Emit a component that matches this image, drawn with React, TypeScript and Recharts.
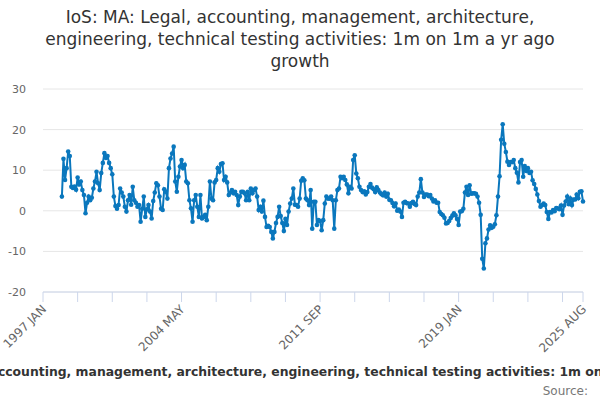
import { LineChart, Line, XAxis, YAxis, CartesianGrid } from "recharts";

const TITLE_LINES = [
  "IoS: MA: Legal, accounting, management, architecture,",
  "engineering, technical testing activities: 1m on 1m a yr ago",
  "growth",
];
const SERIES_NAME =
  "IoS: MA: Legal, accounting, management, architecture, engineering, technical testing activities: 1m on 1m a yr ago growth";

const MONTHS = ["JAN", "FEB", "MAR", "APR", "MAY", "JUN", "JUL", "AUG", "SEP", "OCT", "NOV", "DEC"];

// growth, % (1m on 1m a yr ago), one array per year
const y1997 = [null, null, null, null, null, null, null, null, null, null, null, null];
const y1998 = [3.5, 12.8, 7.6, 10.5, 14.6, 13.5, 5.9, 5.6, 6.0, 5.2, 8.2, 6.5];
const y1999 = [7.2, 5.1, 3.9, -0.6, 2.0, 3.5, 2.6, 3.2, 5.5, 7.2, 9.6, 6.8];
const y2000 = [5.1, 9.3, 11.8, 14.2, 13.0, 13.5, 11.8, 10.5, 9.0, 3.5, 1.2, 0.5];
const y2001 = [1.4, 5.5, 4.5, 3.5, 1.0, -0.2, 2.6, 3.9, 1.5, 5.9, 2.6, 2.0];
const y2002 = [1.0, 1.4, -2.7, 0.5, 3.5, -1.5, 0.4, 1.4, -0.2, -1.9, 2.4, 4.5];
const y2003 = [6.8, 6.3, 3.5, 0.5, 0.2, 5.3, 4.7, 3.0, 10.5, 12.9, 14.1, 15.8];
const y2004 = [7.2, 4.7, 8.4, 10.9, 12.5, 10.5, 11.3, 7.2, 6.8, 2.6, 0.6, -2.7];
const y2005 = [2.6, 3.9, 1.0, -1.5, 3.9, -1.9, -1.5, -1.0, -2.3, 1.0, 7.2, 3.0];
const y2006 = [2.6, 7.0, 7.6, 10.5, 9.6, 11.5, 11.7, 7.6, 8.4, 7.0, 3.9, 4.5];
const y2007 = [5.1, 4.3, 4.7, 3.9, 1.4, 3.5, 4.7, 4.7, 4.3, 2.6, 4.7, 2.6];
const y2008 = [5.5, 4.3, 5.1, 5.5, 3.5, 0.2, 1.0, -0.2, 2.5, -1.5, -4.0, -3.7];
const y2009 = [-4.0, -5.2, -6.8, -5.2, -3.0, -1.5, 1.0, -1.3, -3.0, -5.0, -2.0, -3.5];
const y2010 = [-0.2, 1.8, 3.0, 5.5, 1.5, 1.4, 1.0, 3.0, 7.4, 8.0, 7.5, 3.0];
const y2011 = [2.6, 1.4, 5.1, -4.4, 2.2, 2.2, -3.5, -2.3, -2.5, -4.8, -2.3, 1.8];
const y2012 = [3.5, 3.0, 3.0, 3.5, 2.6, -4.4, 2.6, 5.1, 5.5, 8.4, 8.0, 8.4];
const y2013 = [7.6, 6.5, 4.3, 5.9, 5.5, 12.5, 13.7, 9.2, 8.0, 5.9, 5.1, 4.6];
const y2014 = [4.8, 4.0, 4.6, 5.9, 6.6, 5.7, 5.3, 4.6, 5.8, 5.1, 4.5, 4.1];
const y2015 = [3.8, 4.5, 3.5, 4.2, 2.7, 2.6, 1.9, 1.1, 1.8, 0.0, 0.3, -0.2];
const y2016 = [-1.5, 2.0, 2.2, 1.9, 1.8, 1.0, 1.9, 2.2, 1.7, 1.4, 3.5, 4.5];
const y2017 = [7.8, 4.5, 3.4, 4.0, 4.0, 3.6, 3.9, 3.0, 2.3, 2.6, 2.0, 2.0];
const y2018 = [-0.3, -0.8, -1.1, -1.7, -3.1, -3.0, -2.5, -1.8, -1.2, -0.6, -1.1, -2.0];
const y2019 = [-3.5, -0.2, -0.1, 0.5, 4.5, 5.9, 3.9, 6.3, 4.2, 4.3, 4.3, 4.2];
const y2020 = [3.5, 2.0, -1.0, -11.8, -14.2, -8.0, -6.8, -4.6, -3.6, -4.2, -3.9, -3.3];
const y2021 = [-1.1, 3.5, 8.5, 17.5, 21.3, 16.5, 14.5, 12.1, 11.3, 12.0, 12.0, 12.5];
const y2022 = [10.5, 9.4, 7.0, 12.0, 12.5, 8.4, 11.0, 9.8, 10.5, 9.3, 9.6, 7.5];
const y2023 = [6.6, 5.4, 4.0, 2.4, 1.0, 1.4, 1.8, 1.4, -0.3, -2.0, -0.3, -0.4];
const y2024 = [0.2, -0.1, 0.7, 0.6, 0.4, 1.3, -1.0, 1.3, 2.3, 3.5, 1.6, 3.0];
const y2025 = [1.4, 2.8, 2.8, 4.0, 3.1, 4.7, 4.8, 2.3];

const YEARS: [number, (number | null)[]][] = [
  [1997, y1997], [1998, y1998], [1999, y1999], [2000, y2000], [2001, y2001],
  [2002, y2002], [2003, y2003], [2004, y2004], [2005, y2005], [2006, y2006],
  [2007, y2007], [2008, y2008], [2009, y2009], [2010, y2010], [2011, y2011],
  [2012, y2012], [2013, y2013], [2014, y2014], [2015, y2015], [2016, y2016],
  [2017, y2017], [2018, y2018], [2019, y2019], [2020, y2020], [2021, y2021],
  [2022, y2022], [2023, y2023], [2024, y2024], [2025, y2025],
];

const X_TICKS = [
  "1997 JAN", "1998 NOV", "2000 SEP", "2002 JUL", "2004 MAY", "2006 MAR",
  "2008 JAN", "2009 NOV", "2011 SEP", "2013 JUL", "2015 MAY", "2017 MAR",
  "2019 JAN", "2020 NOV", "2022 SEP", "2024 JUL", "2025 AUG",
];
const X_LABELS = ["1997 JAN", "2004 MAY", "2011 SEP", "2019 JAN", "2025 AUG"];
const Y_TICKS = [-20, -10, 0, 10, 20, 30];

const data = YEARS.flatMap(([year, values]) =>
  values.map((v, m) => ({ month: `${year} ${MONTHS[m]}`, value: v }))
);

const BLUE = "#0a77bd";
const FONT = "'DejaVu Sans', Verdana, sans-serif";

function XTick({ x, y, payload }: any) {
  if (!X_LABELS.includes(payload.value)) return <g />;
  const tx = x + 4;
  const ty = y + 8;
  return (
    <text
      x={tx}
      y={ty}
      textAnchor="end"
      transform={`rotate(-45, ${tx}, ${ty})`}
      fill="#666"
      fontSize={12}
      fontFamily={FONT}
    >
      {payload.value}
    </text>
  );
}

export default function App() {
  return (
    <div style={{ position: "absolute", left: 0, top: 0, width: 600, height: 400, fontFamily: FONT, background: "#fff", overflow: "hidden" }}>
      <div style={{ position: "absolute", top: 6, left: 0, width: 600, textAlign: "center", fontSize: 17, lineHeight: "22px", color: "#333" }}>
        {TITLE_LINES.map((t) => (
          <div key={t}>{t}</div>
        ))}
      </div>
      <LineChart width={600} height={400} data={data} margin={{ top: 89, right: 17, bottom: 0, left: 0 }}>
        <CartesianGrid vertical={false} stroke="#e6e6e6" />
        <XAxis
          dataKey="month"
          ticks={X_TICKS}
          interval={0}
          height={108}
          tickSize={10}
          tickMargin={0}
          stroke="#ccd6eb"
          axisLine={{ stroke: "#ccd6eb" }}
          tickLine={{ stroke: "#ccd6eb" }}
          tick={<XTick />}
        />
        <YAxis
          type="number"
          domain={[-20, 30]}
          ticks={Y_TICKS}
          width={43}
          axisLine={false}
          tickLine={false}
          tickSize={0}
          tickMargin={17}
          tick={{ fill: "#666", fontSize: 11, fontFamily: FONT }}
        />
        <Line
          type="linear"
          dataKey="value"
          stroke={BLUE}
          strokeWidth={2}
          dot={{ r: 2.3, fill: BLUE, stroke: BLUE, strokeWidth: 0 }}
          isAnimationActive={false}
        />
      </LineChart>
      <div style={{ position: "absolute", top: 364, left: -120, whiteSpace: "nowrap", fontSize: 12.4, lineHeight: "16px", fontWeight: "bold", color: "#333" }}>
        {SERIES_NAME}
      </div>
      <div style={{ position: "absolute", top: 383, right: 12, fontSize: 12, lineHeight: "16px", color: "#777" }}>
        Source:
      </div>
    </div>
  );
}
